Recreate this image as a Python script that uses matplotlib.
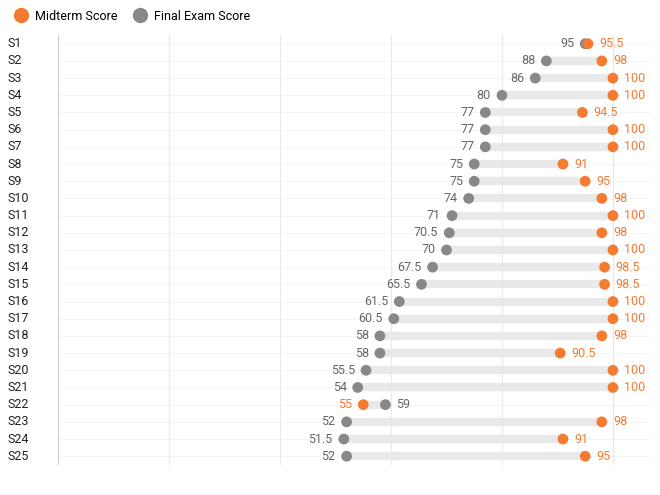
import numpy as np
import matplotlib.pyplot as plt
from matplotlib.transforms import blended_transform_factory
from matplotlib.lines import Line2D

plt.rcParams['font.family'] = ['Roboto', 'DejaVu Sans']

students = [f"S{i}" for i in range(1, 26)]
midterm = [95.5, 98, 100, 100, 94.5, 100, 100, 91, 95, 98, 100, 98, 100, 98.5, 98.5,
           100, 100, 98, 90.5, 100, 100, 55, 98, 91, 95]
final = [95, 88, 86, 80, 77, 77, 77, 75, 75, 74, 71, 70.5, 70, 67.5, 65.5,
         61.5, 60.5, 58, 58, 55.5, 54, 59, 52, 51.5, 52]

orange = '#F47B30'
grey = '#888888'

fig = plt.figure(figsize=(6.6, 4.95), dpi=100)
ax = fig.add_axes([0.088, 0.061, 0.897, 0.868])
y = np.arange(len(students))

for yi, m, f in zip(y, midterm, final):
    ax.plot([min(m, f), max(m, f)], [yi, yi], color='#e9e9e9', lw=6,
            solid_capstyle='butt', zorder=1)
ax.scatter(final, y, s=60, color=grey, zorder=3, edgecolors='none')
ax.scatter(midterm, y, s=60, color=orange, zorder=4, edgecolors='none')

def fmt(v):
    return f"{v:g}"

for yi, m, f in zip(y, midterm, final):
    if m >= f:
        ax.text(m + 2, yi, fmt(m), color=orange, va='center', ha='left', fontsize=9)
        ax.text(f - 2, yi, fmt(f), color='#666666', va='center', ha='right', fontsize=9)
    else:
        ax.text(m - 2, yi, fmt(m), color=orange, va='center', ha='right', fontsize=9)
        ax.text(f + 2, yi, fmt(f), color='#666666', va='center', ha='left', fontsize=9)

ax.set_xlim(0, 106.7)
ax.set_ylim(len(students) - 0.5, -0.5)
ax.set_xticks([0, 20, 40, 60, 80, 100])
ax.set_xticklabels([])
ax.set_yticks([])
ax.tick_params(length=0)
ax.grid(axis='x', color='#e8e8e8', lw=0.8)
ax.axvline(0, color='#cccccc', lw=0.8)
for yi in y:
    ax.axhline(yi, color='#f3f3f3', lw=0.6, zorder=0)
for s in ax.spines.values():
    s.set_visible(False)

tr = blended_transform_factory(fig.transFigure, ax.transData)
for yi, s in zip(y, students):
    ax.text(8 / 660, yi, s, transform=tr, ha='left', va='center', fontsize=9, color='#222222')

handles = [Line2D([], [], marker='o', ls='', color=orange, markersize=10),
           Line2D([], [], marker='o', ls='', color=grey, markersize=10)]
fig.legend(handles, ['Midterm Score', 'Final Exam Score'], loc='upper left',
           bbox_to_anchor=(0.0, 0.998), ncol=2, frameon=False, fontsize=9,
           handletextpad=0.1, columnspacing=0.8, borderaxespad=0.3)

fig.savefig('out.png', dpi=100)
